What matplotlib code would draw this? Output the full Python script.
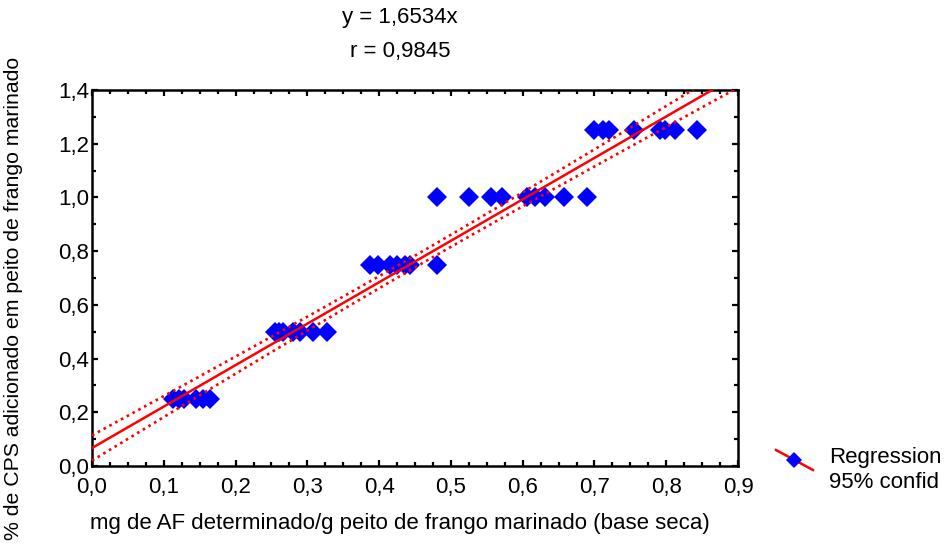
## Scatter of added CPS vs determined AF, with regression line and 95% band
import matplotlib
matplotlib.use('Agg')
import matplotlib.pyplot as plt
from matplotlib.ticker import MultipleLocator, FuncFormatter
from matplotlib.lines import Line2D
import numpy as np

plt.rcParams['font.family'] = ['Liberation Sans', 'DejaVu Sans']

# points
x_025 = [0.113, 0.121, 0.128, 0.145, 0.155, 0.164]
x_050 = [0.255, 0.260, 0.266, 0.280, 0.290, 0.308, 0.327]
x_075 = [0.387, 0.398, 0.415, 0.425, 0.436, 0.443, 0.481]
x_100 = [0.481, 0.525, 0.556, 0.571, 0.606, 0.617, 0.631, 0.658, 0.690]
x_125 = [0.699, 0.712, 0.720, 0.755, 0.791, 0.798, 0.812, 0.843]
levels = [0.25, 0.50, 0.75, 1.00, 1.25]

# line as drawn (estimated), band half width at centre / at x=0
intercept = 0.067
slope = 1.543
x_mean = 0.45
hw_centre = 0.022
hw_zero = 0.047

title1 = 'y = 1,6534x'
title2 = 'r = 0,9845'
xlab = 'mg de AF determinado/g peito de frango marinado (base seca)'
ylab = '% de CPS adicionado em peito de frango marinado'
fs = 16

fig = plt.figure(figsize=(9.5, 5.45), dpi=100)
ax = fig.add_axes([92/950, 79/545, 646/950, 376/545])

xs = [x_025, x_050, x_075, x_100, x_125]
for lev, xx in zip(levels, xs):
	ax.plot(xx, np.ones(len(xx))*lev, 'D', color='#0000ff', ms=10.5, mew=0, zorder=2)

xl = np.linspace(0, 0.9, 200)
yl = intercept + slope*xl
b = (hw_zero**2 - hw_centre**2)/x_mean**2
hw = np.sqrt(hw_centre**2 + b*(xl-x_mean)**2)
ax.plot(xl, yl, color='#ff0000', lw=1.8, zorder=3)
ax.plot(xl, yl+hw, color='#ff0000', lw=1.9, ls=(0, (1, 1.5)), zorder=3)
ax.plot(xl, yl-hw, color='#ff0000', lw=1.9, ls=(0, (1, 1.5)), zorder=3)

ax.set_xlim(0, 0.9)
ax.set_ylim(0, 1.4)
ax.xaxis.set_major_locator(MultipleLocator(0.1))
ax.xaxis.set_minor_locator(MultipleLocator(0.025))
ax.yaxis.set_major_locator(MultipleLocator(0.2))
ax.yaxis.set_minor_locator(MultipleLocator(0.1))
fmt = FuncFormatter(lambda v, p: ('%.1f' % v).replace('.', ','))
ax.xaxis.set_major_formatter(fmt)
ax.yaxis.set_major_formatter(fmt)
ax.tick_params(which='both', direction='in', top=True, right=True, width=1.6, labelsize=fs, colors='black')
ax.tick_params(which='major', length=4)
ax.tick_params(which='minor', length=3)
ax.tick_params(axis='x', which='major', pad=8)
ax.tick_params(axis='y', which='major', pad=2)
for s in ax.spines.values():
	s.set_linewidth(1.8)

fig.text(400/950, 1-17/545, title1, ha='center', va='center', fontsize=fs)
fig.text(400/950, 1-52/545, title2, ha='center', va='center', fontsize=fs)
fig.text(400/950, 1-523/545, xlab, ha='center', va='center', fontsize=fs)
fig.text(14/950, 1-298/545, ylab, ha='center', va='center', rotation=90, fontsize=15.3)

# legend glyph
fig.add_artist(Line2D([776/950, 813/950], [1-450/545, 1-470/545], color='#ff0000', lw=1.8))
fig.add_artist(Line2D([794/950], [1-460/545], marker='D', color='#0000ff', ms=8, mew=0))
fig.text(829/950, 1-457/545, 'Regression', ha='left', va='center', fontsize=fs)
fig.text(829/950, 1-482/545, '95% confid', ha='left', va='center', fontsize=fs)

fig.savefig('out.png', dpi=100)
